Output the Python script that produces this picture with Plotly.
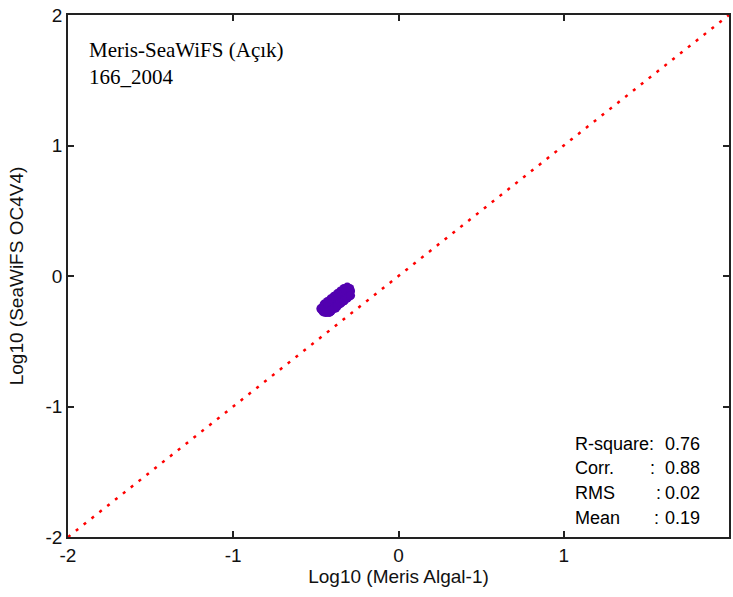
import plotly.graph_objects as go

# Data
meris_x = [-0.46, -0.455, -0.45, -0.445, -0.44, -0.435, -0.43, -0.425, -0.42, -0.415,
           -0.41, -0.405, -0.40, -0.395, -0.39, -0.385, -0.38, -0.375, -0.37, -0.365,
           -0.36, -0.355, -0.35, -0.345, -0.34, -0.335, -0.33, -0.325, -0.32, -0.315,
           -0.31, -0.305, -0.30, -0.295, -0.29, -0.30, -0.44, -0.43, -0.41, -0.39,
           -0.37, -0.35, -0.33, -0.31, -0.32, -0.36, -0.40, -0.42, -0.45, -0.38,
           -0.465, -0.295,
           -0.45, -0.43, -0.41, -0.39, -0.37, -0.35, -0.33, -0.31,
           -0.42, -0.41, -0.39, -0.37, -0.35, -0.33, -0.31, -0.29,
           -0.47, -0.465, -0.455, -0.44]
seawifs_y = [-0.26, -0.245, -0.27, -0.235, -0.255, -0.275, -0.24, -0.22, -0.26, -0.235,
             -0.205, -0.25, -0.225, -0.195, -0.24, -0.21, -0.185, -0.225, -0.2, -0.17,
             -0.215, -0.185, -0.16, -0.2, -0.175, -0.145, -0.19, -0.16, -0.13, -0.17,
             -0.145, -0.12, -0.155, -0.13, -0.115, -0.105, -0.22, -0.265, -0.27, -0.215,
             -0.175, -0.195, -0.165, -0.125, -0.15, -0.19, -0.205, -0.215, -0.25, -0.245,
             -0.245, -0.095,
             -0.215, -0.195, -0.175, -0.155, -0.135, -0.115, -0.095, -0.085,
             -0.28, -0.27, -0.25, -0.23, -0.21, -0.19, -0.17, -0.15,
             -0.25, -0.26, -0.275, -0.28]
line_x = [-2, 2]
line_y = [-2, 2]
ticks = [-2, -1, 0, 1, 2]
stat_labels = ["R-square:", "Corr.", "RMS", "Mean"]
stat_values = ["0.76", "0.88", "0.02", "0.19"]
title_lines = ["Meris-SeaWiFS (Açık)", "166_2004"]

fig = go.Figure()
fig.add_trace(go.Scatter(x=line_x, y=line_y, mode="lines",
                         line=dict(color="#ff0000", width=2.5, dash="3px,7px"),
                         showlegend=False, hoverinfo="skip"))
fig.add_trace(go.Scatter(x=meris_x, y=seawifs_y, mode="markers",
                         marker=dict(symbol="circle", size=9, color="rgb(82,0,176)",
                                     line=dict(width=0)),
                         showlegend=False))

PW, PH = 663, 522
L, T = 68, 15

def px_to_paper_x(px):
    return (px - L) / PW

def px_to_paper_y(py):
    return 1 - (py - T) / PH

ann = []
for i, t in enumerate(title_lines):
    ann.append(dict(x=px_to_paper_x(87), y=px_to_paper_y(50 + 27 * i), xref="paper", yref="paper",
                    text=t, showarrow=False, xanchor="left", yanchor="middle",
                    font=dict(family="Liberation Serif", size=21, color="#000")))

stat_font = dict(family="Liberation Sans", size=18, color="#000")
colon_px = [None, 650, 656, 654]
row_y = [444, 468, 493, 518]
for i, (lab, val) in enumerate(zip(stat_labels, stat_values)):
    ann.append(dict(x=px_to_paper_x(575), y=px_to_paper_y(row_y[i]), xref="paper", yref="paper",
                    text=lab, showarrow=False, xanchor="left", yanchor="middle", font=stat_font))
    if colon_px[i] is not None:
        ann.append(dict(x=px_to_paper_x(colon_px[i]), y=px_to_paper_y(row_y[i]), xref="paper", yref="paper",
                        text=":", showarrow=False, xanchor="left", yanchor="middle", font=stat_font))
    ann.append(dict(x=px_to_paper_x(665), y=px_to_paper_y(row_y[i]), xref="paper", yref="paper",
                    text=val, showarrow=False, xanchor="left", yanchor="middle", font=stat_font))

axis_common = dict(range=[-2, 2], tickvals=ticks, ticktext=[str(t) for t in ticks],
                   showgrid=False, zeroline=False, showline=True, linecolor="#222",
                   linewidth=1.5, mirror="ticks", ticks="inside", ticklen=6, tickwidth=1.5,
                   tickcolor="#222", tickfont=dict(family="Liberation Sans", size=19, color="#111"))

fig.update_layout(
    width=733, height=597,
    margin=dict(l=L, r=733 - L - PW, t=T, b=597 - T - PH),
    paper_bgcolor="white", plot_bgcolor="white",
    xaxis=dict(**axis_common,
               title=dict(text="Log10 (Meris Algal-1)", standoff=4,
                          font=dict(family="Liberation Sans", size=19, color="#111"))),
    yaxis=dict(**axis_common,
               title=dict(text="Log10 (SeaWiFS OC4V4)", standoff=17,
                          font=dict(family="Liberation Sans", size=19, color="#111"))),
    annotations=ann,
)

fig.write_html("out.html")
